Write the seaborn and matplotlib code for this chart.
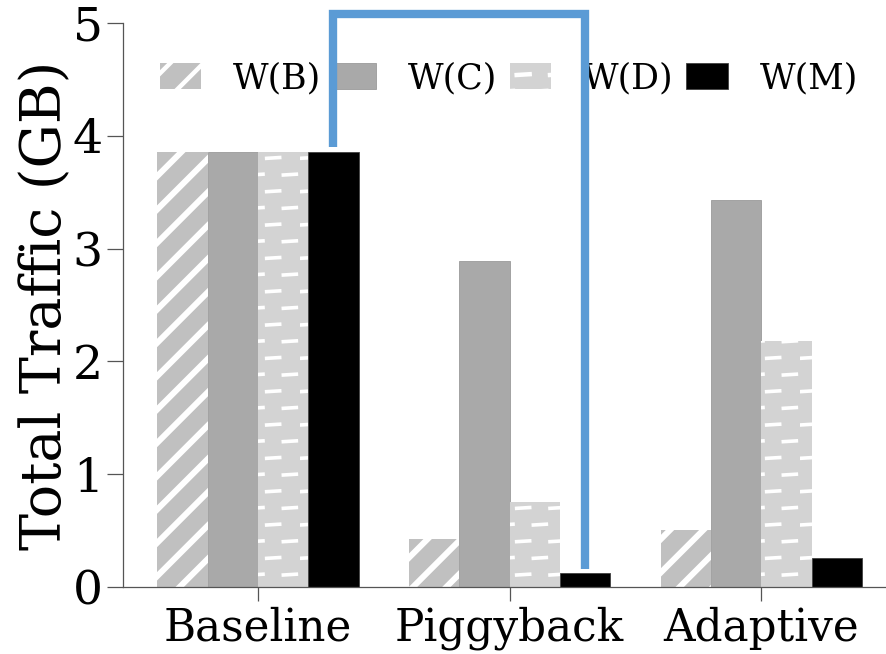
import numpy as np
import pandas as pd
import matplotlib
matplotlib.use("Agg")
import matplotlib.pyplot as plt
import matplotlib.hatch as mhatch
from matplotlib.path import Path
import seaborn as sns

# ---- data -------------------------------------------------------------
schemes = ["Baseline", "Piggyback", "Adaptive"]
workloads = ["W(B)", "W(C)", "W(D)", "W(M)"]
traffic_wb = [3.86, 0.43, 0.505]
traffic_wc = [3.86, 2.89, 3.43]
traffic_wd = [3.86, 0.75, 2.18]
traffic_wm = [3.86, 0.12, 0.26]

yticks = [0, 1, 2, 3, 4, 5]

df = pd.DataFrame({
    "scheme": schemes * 4,
    "workload": np.repeat(workloads, len(schemes)),
    "traffic": traffic_wb + traffic_wc + traffic_wd + traffic_wm,
})


# ---- custom "broken dash" hatch ----------------------------------------
class StaggeredDashes(mhatch.HatchPatternBase):
    """Rows of short horizontal dashes, every other row shifted by half."""

    def __init__(self, hatch, density):
        n = hatch.count("~")
        self.rows = 6 * n
        self.per_row = 3
        self.dash = 0.13
        self.num_vertices = self.rows * self.per_row * 2 if n else 0

    def set_vertices_and_codes(self, vertices, codes):
        k = 0
        for r in range(self.rows):
            y = (r + 0.5) / self.rows
            shift = 0.5 / self.per_row if r % 2 else 0.0
            for c in range(self.per_row):
                x0 = (c / self.per_row + shift) % 1.0
                vertices[k] = (x0, y)
                vertices[k + 1] = (x0 + self.dash, y + 0.008)
                codes[k] = Path.MOVETO
                codes[k + 1] = Path.LINETO
                k += 2


mhatch._hatch_types.append(StaggeredDashes)

# ---- style ------------------------------------------------------------
sns.set_theme(style="ticks")
plt.rcParams["font.family"] = ["DejaVu Serif"]
plt.rcParams["hatch.linewidth"] = 3.2
plt.rcParams["hatch.color"] = "white"
for key in ("text.color", "axes.labelcolor", "xtick.labelcolor",
            "ytick.labelcolor"):
    plt.rcParams[key] = "black"

face_colors = ["#c0c0c0", "#a9a9a9", "#d3d3d3", "#000000"]
# hatched bars use a white edge so the hatch strokes come out white
edge_colors = ["white", "#9a9a9a", "white", "#404040"]
edge_widths = [0.0, 0.6, 0.0, 0.6]
hatches = ["/", "", "~", ""]
hatch_widths = [4.3, None, 2.6, None]

fig = plt.figure(figsize=(8.87, 6.54), dpi=100)
ax = fig.add_axes([0.1387, 0.1024, 0.8613, 0.8624])

sns.barplot(data=df, x="scheme", y="traffic", hue="workload",
            order=schemes, hue_order=workloads,
            palette=face_colors, saturation=1, width=0.8,
            legend=False, ax=ax)

for cont, fc, ec, lw, h, hw in zip(ax.containers, face_colors, edge_colors,
                                   edge_widths, hatches, hatch_widths):
    for bar in cont.patches:
        bar.set_facecolor(fc)
        bar.set_edgecolor(ec)
        bar.set_linewidth(lw)
        if h:
            bar.set_hatch(h)
            if hw is not None and hasattr(bar, "set_hatch_linewidth"):
                bar.set_hatch_linewidth(hw)

ax.set_ylim(0, 5)
ax.set_xlim(-0.536, 2.5)
ax.set_yticks(yticks)
ax.set_xlabel("")
ax.set_ylabel("Total Traffic (GB)", fontsize=40, labelpad=0)
ax.tick_params(axis="x", labelsize=31.5, length=10, width=0.9,
               color="#555555", pad=4)
ax.tick_params(axis="y", labelsize=34, length=11.5, width=0.9,
               color="#555555", pad=3)
for side in ("top", "right"):
    ax.spines[side].set_visible(False)
for side in ("left", "bottom"):
    ax.spines[side].set_color("#555555")
    ax.spines[side].set_linewidth(0.9)

leg = ax.legend(ax.containers, workloads, loc="center left",
                bbox_to_anchor=(0.048, 0.902), ncol=4, frameon=False,
                fontsize=25, handlelength=1.2, handleheight=0.75,
                handletextpad=0.92, columnspacing=0.36, borderpad=0,
                borderaxespad=0)

# bracket linking the W(M) bars of Baseline and Piggyback
wm_offset = 0.3
gap = 0.04
top = 5.08
bx = [0 + wm_offset, 0 + wm_offset, 1 + wm_offset, 1 + wm_offset]
by = [traffic_wm[0] + gap, top, top, traffic_wm[1] + gap]
ax.plot(bx, by, color="#5b9bd5", linewidth=6, solid_joinstyle="miter",
        solid_capstyle="butt", clip_on=False, zorder=10)

fig.savefig("out.png", dpi=100)
